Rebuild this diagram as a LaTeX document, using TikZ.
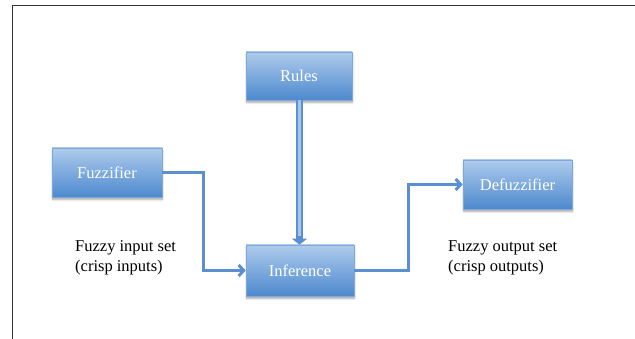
\documentclass[tikz,border=0pt]{standalone}
\usepackage{fontspec}
\setmainfont{Liberation Serif}
\usetikzlibrary{arrows.meta,shadows.blur}
\definecolor{boxtop}{HTML}{AECBEC}
\definecolor{boxbot}{HTML}{4D89CE}
\definecolor{boxedge}{HTML}{7EA8DA}
\definecolor{arrcol}{HTML}{5A8FD2}
\definecolor{arrlight}{HTML}{A6C5EA}
\definecolor{framecol}{HTML}{333333}
\tikzset{
  blockbox/.style={rectangle, top color=boxtop, bottom color=boxbot, draw=boxedge, line width=0.6pt,
    text=white, font=\fontsize{16.5}{19}\selectfont, inner sep=0pt,
    blur shadow={shadow xshift=0.5pt, shadow yshift=-2.5pt, shadow blur steps=6, shadow opacity=35}},
  labeltext/.style={align=left, anchor=west, font=\fontsize{16.5}{20}\selectfont, inner sep=0pt},
  elbow/.style={draw=arrcol, line width=3pt, -{Straight Barb[length=5pt,width=11pt,line width=3pt]}},
  rulearr/.style={draw=arrcol, line width=7.5pt, -{Triangle[length=6pt,width=15pt]}},
  ruleinner/.style={draw=arrlight, line width=3pt},
  frameline/.style={draw=framecol, line width=1pt}
}
\begin{document}
\begin{tikzpicture}[x=1pt,y=-1pt]
\useasboundingbox (0,0) rectangle (635,339);
\draw[frameline] (12,339) -- (12,6) -- (635,6);

\node[blockbox, minimum width=106pt, minimum height=48pt] (rules) at (299,76) {Rules};
\node[blockbox, minimum width=110pt, minimum height=49pt] (fuzz) at (107,172.5) {Fuzzifier};
\node[blockbox, minimum width=108pt, minimum height=51pt] (inf) at (300,270.5) {Inference};
\node[blockbox, minimum width=109pt, minimum height=49pt] (defuzz) at (517.5,184.5) {Defuzzifier};

\node[labeltext] (inlab) at (75,258) {Fuzzy input set\\(crisp inputs)};
\node[labeltext] (outlab) at (448,258) {Fuzzy output set\\(crisp outputs)};

\draw[rulearr] (rules.south -| 299.5,0) -- (inf.north -| 299.5,0);
\draw[ruleinner, shorten >=9pt] (rules.south -| 299.5,0) -- (inf.north -| 299.5,0);

\draw[elbow] (fuzz.east) -- ++(41,0) |- (inf.west);
\draw[elbow] (inf.east) -- ++(54,0) |- (defuzz.west);
\end{tikzpicture}
\end{document}
